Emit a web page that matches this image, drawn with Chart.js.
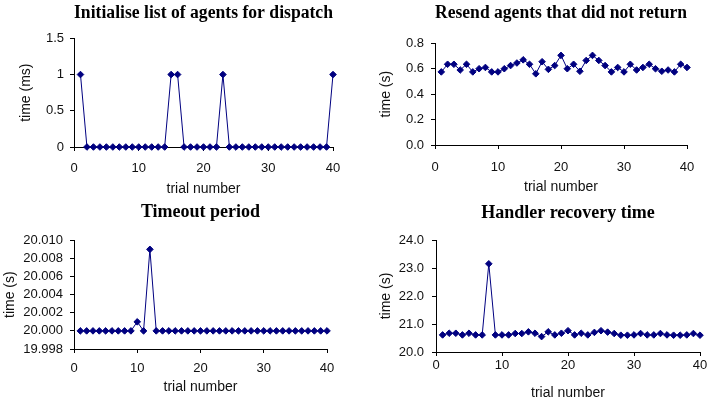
<!DOCTYPE html>
<html>
<head>
<meta charset="utf-8">
<script src="https://cdn.jsdelivr.net/npm/chart.js@4.4.0/dist/chart.umd.min.js"></script>
<style>
  html, body { margin: 0; padding: 0; background: #fff; overflow: hidden; }
  .panel { position: absolute; }
</style>
</head>
<body>
<div class="panel" style="left:0px;top:0px"><canvas id="c1" width="355" height="200"></canvas></div>
<div class="panel" style="left:355px;top:0px"><canvas id="c2" width="356" height="200"></canvas></div>
<div class="panel" style="left:0px;top:200px"><canvas id="c3" width="355" height="205"></canvas></div>
<div class="panel" style="left:355px;top:200px"><canvas id="c4" width="356" height="205"></canvas></div>
<script>
// ---------------- data ----------------
const trials = [1, 2, 3, 4, 5, 6, 7, 8, 9, 10, 11, 12, 13, 14, 15, 16, 17, 18, 19, 20,
                21, 22, 23, 24, 25, 26, 27, 28, 29, 30, 31, 32, 33, 34, 35, 36, 37, 38, 39, 40];

// time (ms)
const initListTimes = [1, 0, 0, 0, 0, 0, 0, 0, 0, 0, 0, 0, 0, 0, 1, 1, 0, 0, 0, 0,
                       0, 0, 1, 0, 0, 0, 0, 0, 0, 0, 0, 0, 0, 0, 0, 0, 0, 0, 0, 1];

// time (s)
const resendTimes = [0.575, 0.635, 0.635, 0.59, 0.635, 0.575, 0.60, 0.61, 0.575, 0.575,
                     0.60, 0.625, 0.645, 0.67, 0.635, 0.56, 0.655, 0.595, 0.625, 0.705,
                     0.60, 0.635, 0.58, 0.665, 0.705, 0.665, 0.625, 0.575, 0.61, 0.575,
                     0.635, 0.59, 0.61, 0.635, 0.60, 0.58, 0.59, 0.575, 0.635, 0.61];

// time (s)
const timeoutTimes = [20.000, 20.000, 20.000, 20.000, 20.000, 20.000, 20.000, 20.000, 20.000, 20.001,
                      20.000, 20.009, 20.000, 20.000, 20.000, 20.000, 20.000, 20.000, 20.000, 20.000,
                      20.000, 20.000, 20.000, 20.000, 20.000, 20.000, 20.000, 20.000, 20.000, 20.000,
                      20.000, 20.000, 20.000, 20.000, 20.000, 20.000, 20.000, 20.000, 20.000, 20.000];

// time (s)
const handlerTimes = [20.61, 20.67, 20.67, 20.61, 20.67, 20.61, 20.61, 23.15, 20.61, 20.61,
                      20.61, 20.66, 20.66, 20.72, 20.67, 20.55, 20.72, 20.61, 20.67, 20.76,
                      20.61, 20.67, 20.61, 20.70, 20.76, 20.71, 20.66, 20.60, 20.60, 20.61,
                      20.66, 20.61, 20.61, 20.66, 20.61, 20.60, 20.60, 20.61, 20.66, 20.60];

// tick values / labels
const xTicks = [0, 10, 20, 30, 40];
const xTickLabels = ['0', '10', '20', '30', '40'];
const initTicks = [0, 0.5, 1, 1.5];
const initTickLabels = ['0', '0.5', '1', '1.5'];
const resendTicks = [0, 0.2, 0.4, 0.6, 0.8];
const resendTickLabels = ['0.0', '0.2', '0.4', '0.6', '0.8'];
const timeoutTicks = [19.998, 20.000, 20.002, 20.004, 20.006, 20.008, 20.010];
const timeoutTickLabels = ['19.998', '20.000', '20.002', '20.004', '20.006', '20.008', '20.010'];
const handlerTicks = [20, 21, 22, 23, 24];
const handlerTickLabels = ['20.0', '21.0', '22.0', '23.0', '24.0'];

// ---------------- chart builder ----------------
const NAVY = '#000080';
const SANS = '"Liberation Sans", Arial, sans-serif';
const SERIF = '"Liberation Serif", "Times New Roman", serif';

function makeChart(id, p) {
    const points = trials.map((t, i) => ({ x: t, y: p.values[i] }));
    return new Chart(document.getElementById(id), {
        type: 'line',
        data: {
            datasets: [{
                data: points,
                borderColor: NAVY,
                backgroundColor: NAVY,
                borderWidth: 1,
                pointStyle: 'rectRot',
                pointRadius: 3.3,
                pointBorderWidth: 1,
                pointBackgroundColor: NAVY,
                pointBorderColor: NAVY,
                tension: 0,
                clip: false
            }]
        },
        options: {
            responsive: false,
            animation: false,
            events: [],
            layout: { padding: p.pad },
            plugins: {
                legend: { display: false },
                tooltip: { enabled: false },
                title: {
                    display: true,
                    text: p.title,
                    fullSize: false,
                    color: '#000',
                    font: { family: SERIF, size: 18, weight: 'bold' },
                    padding: p.titlePad
                }
            },
            scales: {
                x: {
                    type: 'linear',
                    min: xTicks[0],
                    max: xTicks[xTicks.length - 1],
                    afterBuildTicks: s => { s.ticks = xTicks.map(v => ({ value: v })); },
                    afterFit: s => { s.height = p.xH; },
                    border: { display: true, color: '#000', width: 1 },
                    grid: { display: true, drawOnChartArea: false, drawTicks: true, tickLength: 4, color: '#000', tickColor: '#000' },
                    ticks: {
                        color: '#111',
                        padding: p.xTickPad,
                        maxRotation: 0,
                        autoSkip: false,
                        font: { family: SANS, size: 13 },
                        callback: (v, i) => xTickLabels[i]
                    },
                    title: {
                        display: true,
                        text: 'trial number',
                        color: '#111',
                        font: { family: SANS, size: 14 },
                        padding: { top: 0, bottom: p.xTitlePad }
                    }
                },
                y: {
                    type: 'linear',
                    min: p.yTicks[0],
                    max: p.yTicks[p.yTicks.length - 1],
                    afterBuildTicks: s => { s.ticks = p.yTicks.map(v => ({ value: v })); },
                    afterFit: s => { s.width = p.yW; },
                    border: { display: true, color: '#000', width: 1 },
                    grid: { display: true, drawOnChartArea: false, drawTicks: true, tickLength: 4, color: '#000', tickColor: '#000' },
                    ticks: {
                        color: '#111',
                        padding: p.yTickPad,
                        autoSkip: false,
                        font: { family: SANS, size: 13 },
                        callback: (v, i) => p.yLabels[i]
                    },
                    title: {
                        display: true,
                        text: p.yTitle,
                        color: '#111',
                        font: { family: SANS, size: 14 },
                        padding: { top: p.yTitlePad, bottom: 0 }
                    }
                }
            }
        }
    });
}

makeChart('c1', {
    title: 'Initialise list of agents for dispatch',
    yTitle: 'time (ms)',
    values: initListTimes,
    yTicks: initTicks, yLabels: initTickLabels,
    pad: { left: 0, right: 22, top: 0, bottom: 0 },
    yW: 74, xH: 53,
    titlePad: { top: 3, bottom: 13.7 },
    xTickPad: 10, yTickPad: 6, xTitlePad: 2, yTitlePad: 18
});

makeChart('c2', {
    title: 'Resend agents that did not return',
    yTitle: 'time (s)',
    values: resendTimes,
    yTicks: resendTicks, yLabels: resendTickLabels,
    pad: { left: 0, right: 24, top: 0, bottom: 0 },
    yW: 80, xH: 55,
    titlePad: { top: 3, bottom: 18.7 },
    xTickPad: 11, yTickPad: 7, xTitlePad: 4, yTitlePad: 23
});

makeChart('c3', {
    title: 'Timeout period',
    yTitle: 'time (s)',
    values: timeoutTimes,
    yTicks: timeoutTicks, yLabels: timeoutTickLabels,
    pad: { left: 0, right: 28, top: 0, bottom: 0 },
    yW: 74, xH: 56,
    titlePad: { top: 2, bottom: 16.7 },
    xTickPad: 8, yTickPad: 7, xTitlePad: 9, yTitlePad: 2
});

makeChart('c4', {
    title: 'Handler recovery time',
    yTitle: 'time (s)',
    values: handlerTimes,
    yTicks: handlerTicks, yLabels: handlerTickLabels,
    pad: { left: 0, right: 11, top: 0, bottom: 0 },
    yW: 81, xH: 53,
    titlePad: { top: 3, bottom: 15.4 },
    xTickPad: 2, yTickPad: 8, xTitlePad: 3, yTitlePad: 23
});
</script>
</body>
</html>
